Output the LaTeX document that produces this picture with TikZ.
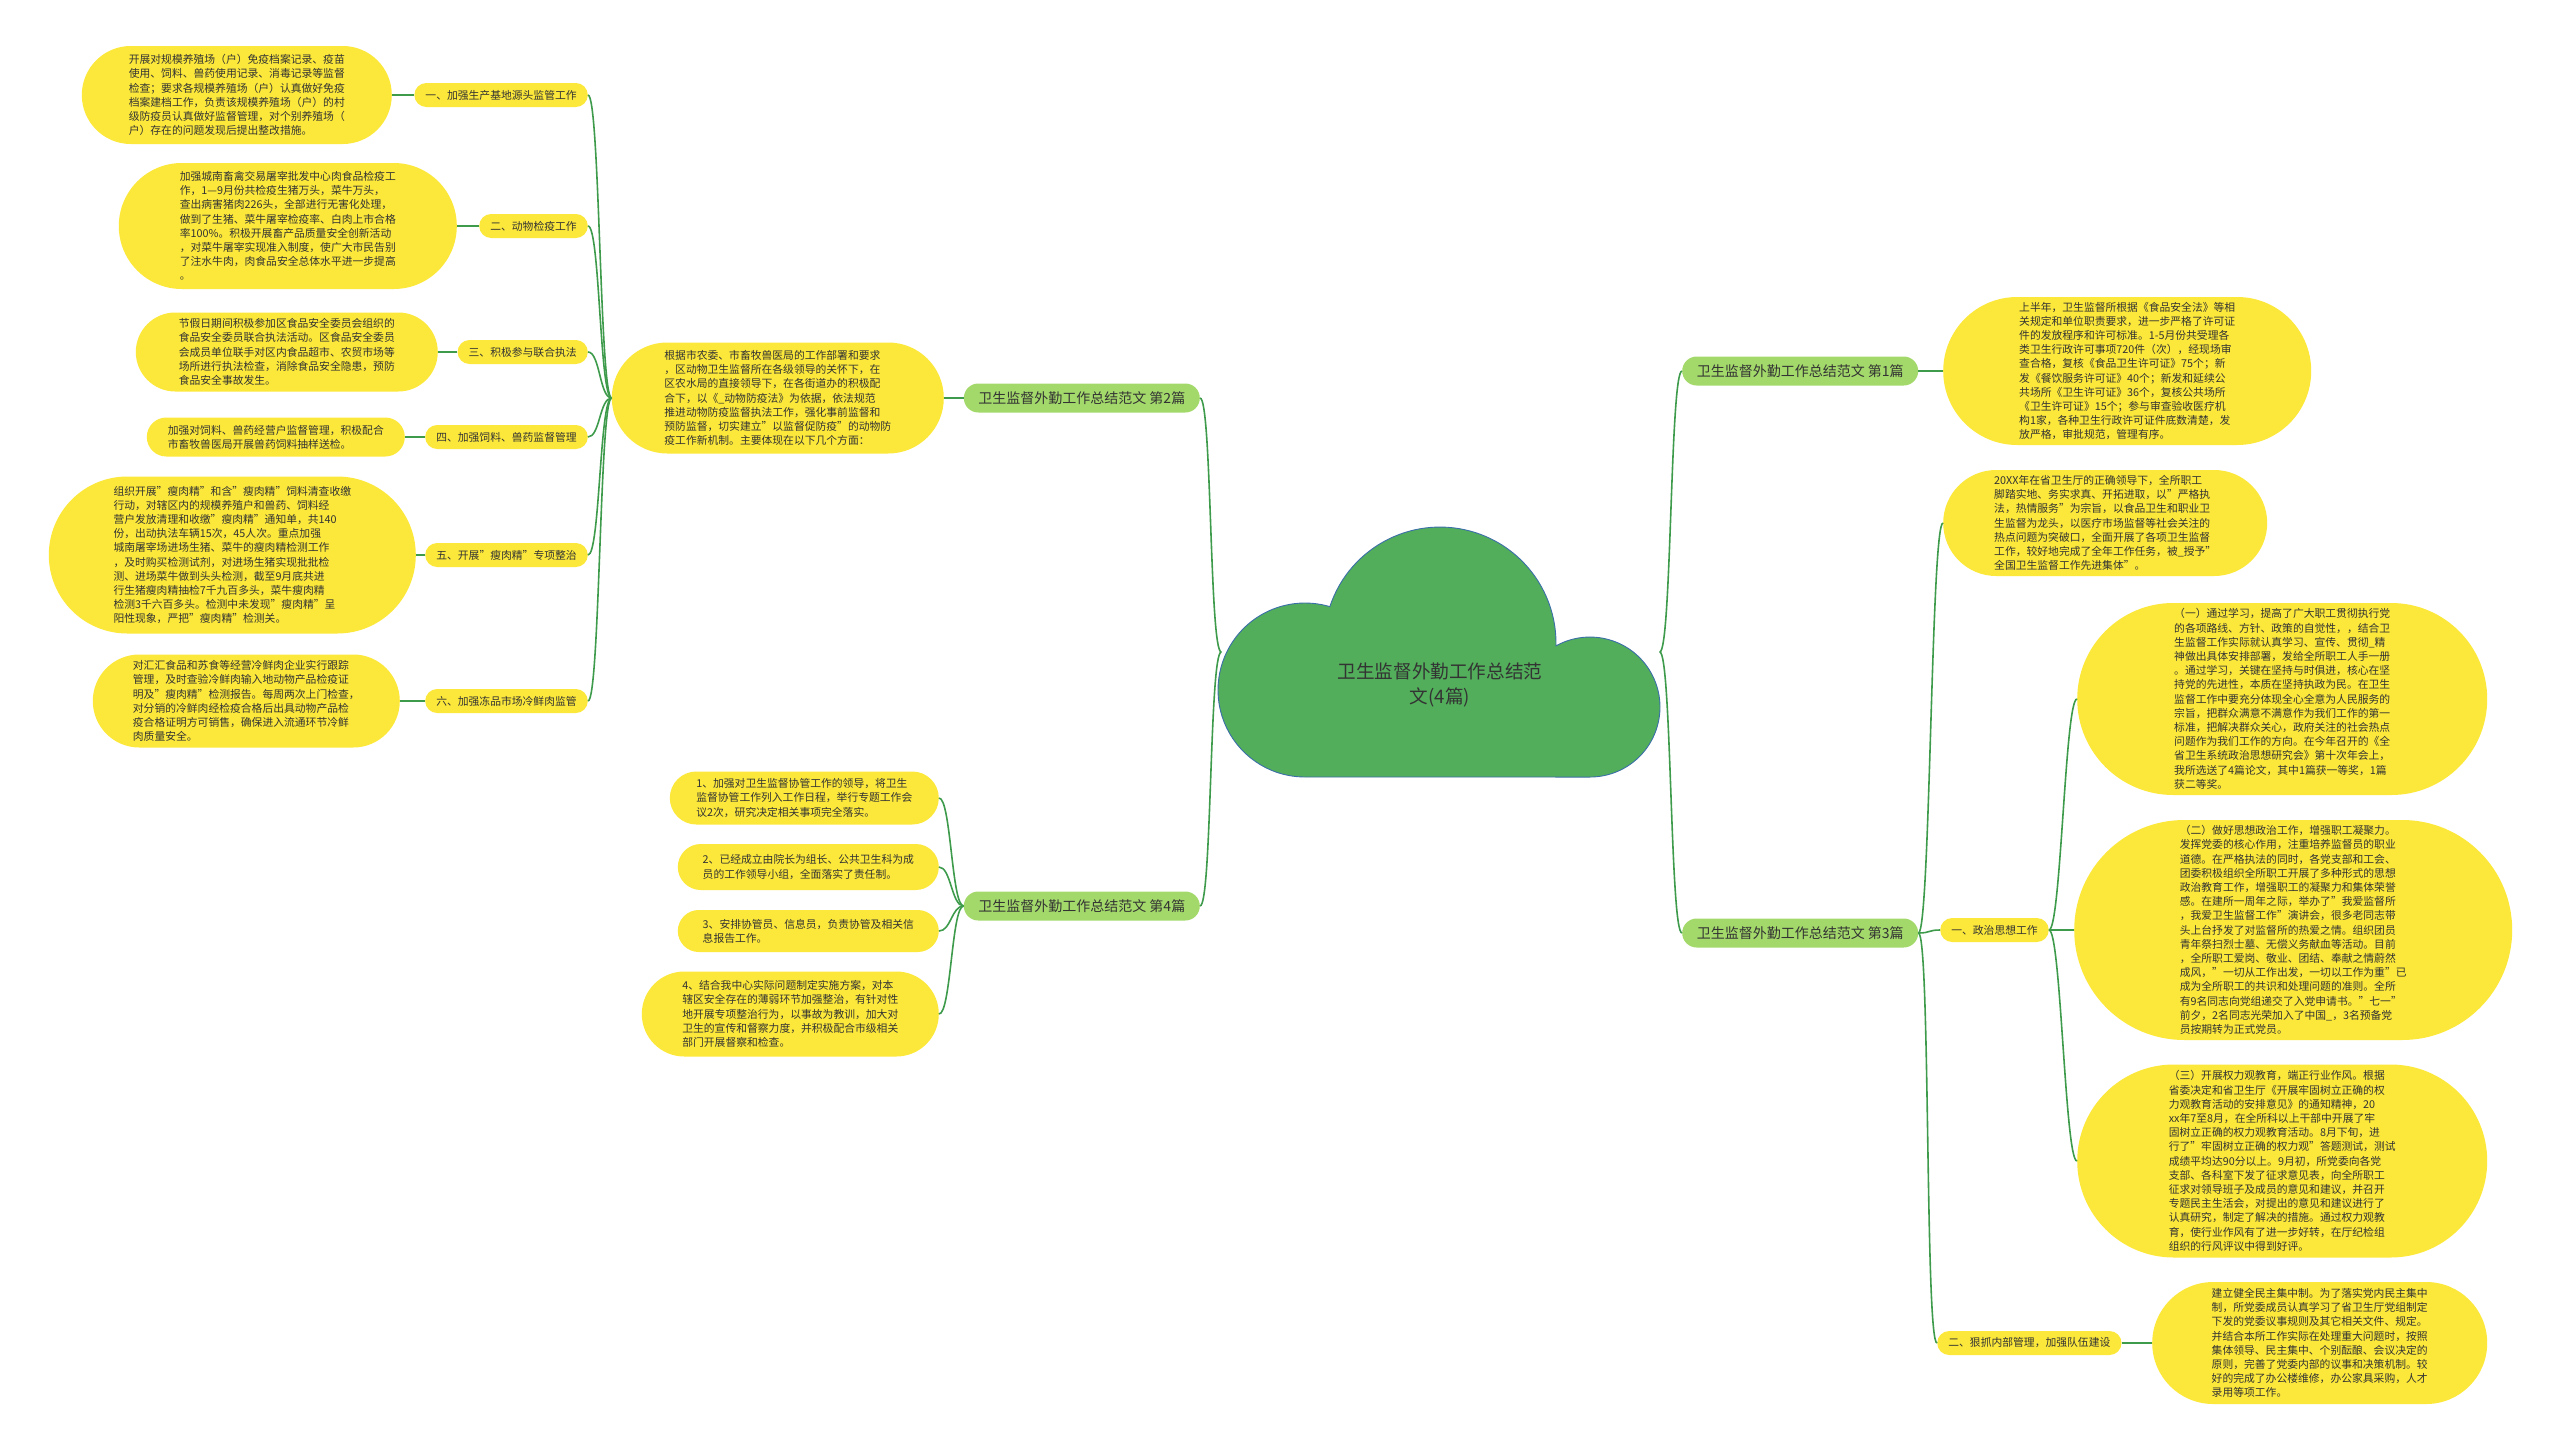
\documentclass[tikz,border=0pt]{standalone}
\usepackage{fontspec}
\setmainfont{Noto Sans CJK SC}
\usetikzlibrary{shapes.misc}
\definecolor{leafyellow}{HTML}{FCE83A}
\definecolor{branchgreen}{HTML}{A3D96B}
\definecolor{cloudgreen}{HTML}{52AE5B}
\definecolor{cloudline}{HTML}{3B6FA8}
\definecolor{linkgreen}{HTML}{3E9B4C}
\definecolor{inktext}{HTML}{333333}

\begin{document}
\begin{tikzpicture}[x=1pt,y=-1pt,
		leaf/.style={rounded rectangle,fill=leafyellow,inner xsep=0pt,inner ysep=0pt,align=left,text=inktext,font=\fontsize{10.8}{14.2}\selectfont},
		topic/.style={rounded rectangle,fill=leafyellow,inner xsep=10pt,inner ysep=0pt,minimum height=24pt,text=inktext,font=\fontsize{10.8}{13}\selectfont},
		branch/.style={rounded rectangle,fill=branchgreen,inner xsep=13pt,inner ysep=0pt,minimum height=29pt,text=inktext,font=\fontsize{14}{16}\selectfont},
		link/.style={draw=linkgreen,line width=1.6pt},
		fanL/.style={to path={.. controls +(-12,0) and +(12,0) .. (\tikztotarget)}},
		fanR/.style={to path={.. controls +(12,0) and +(-12,0) .. (\tikztotarget)}}]
		\useasboundingbox (0,0) rectangle (2560,1451);

		% Centre: the cloud and its title
		\filldraw[fill=cloudgreen,draw=cloudline,line width=0.9pt] (1305,777)
			arc[start angle=90,end angle=286.6,radius=87]
			arc[start angle=198.3,end angle=361.4,radius=116]
			arc[start angle=240.9,end angle=450,radius=70] -- cycle;
		\node[minimum width=438pt,minimum height=250pt,inner sep=0pt] (root) at (1440.5,652) {};
		\node[align=center,text=inktext,font=\fontsize{18.6}{25}\selectfont] (roottxt) at (1440,685) {卫生监督外勤工作总结范\\文(4篇)};

		% Branches
		\node[branch,anchor=east] (b2) at (1200,398) {卫生监督外勤工作总结范文 第2篇};
		\node[branch,anchor=east] (b4) at (1200,906) {卫生监督外勤工作总结范文 第4篇};
		\node[branch,anchor=west] (b1) at (1682,371) {卫生监督外勤工作总结范文 第1篇};
		\node[branch,anchor=west] (b3) at (1682,933) {卫生监督外勤工作总结范文 第3篇};

		% Second piece: intro and its six points
		\node[leaf,anchor=east,minimum width=332pt,minimum height=111pt] (r2) at (944,398) {根据市农委、市畜牧兽医局的工作部署和要求\\，区动物卫生监督所在各级领导的关怀下，在\\区农水局的直接领导下，在各街道办的积极配\\合下，以《\_动物防疫法》为依据，依法规范\\推进动物防疫监督执法工作，强化事前监督和\\预防监督，切实建立"以监督促防疫"的动物防\\疫工作新机制。主要体现在以下几个方面：};

		\node[topic,anchor=east] (s1) at (588,95) {一、加强生产基地源头监管工作};
		\node[topic,anchor=east] (s2) at (588,226) {二、动物检疫工作};
		\node[topic,anchor=east] (s3) at (588,352) {三、积极参与联合执法};
		\node[topic,anchor=east] (s4) at (588,437) {四、加强饲料、兽药监督管理};
		\node[topic,anchor=east] (s5) at (588,555) {五、开展"瘦肉精"专项整治};
		\node[topic,anchor=east] (s6) at (588,701) {六、加强冻品市场冷鲜肉监管};

		\node[leaf,anchor=east,minimum width=310pt,minimum height=98pt] (l1) at (392,95) {开展对规模养殖场（户）免疫档案记录、疫苗\\使用、饲料、兽药使用记录、消毒记录等监督\\检查；要求各规模养殖场（户）认真做好免疫\\档案建档工作，负责该规模养殖场（户）的村\\级防疫员认真做好监督管理，对个别养殖场（\\户）存在的问题发现后提出整改措施。};
		\node[leaf,anchor=east,minimum width=338pt,minimum height=126pt] (l2) at (457,226) {加强城南畜禽交易屠宰批发中心肉食品检疫工\\作，1—9月份共检疫生猪万头，菜牛万头，\\查出病害猪肉226头，全部进行无害化处理，\\做到了生猪、菜牛屠宰检疫率、白肉上市合格\\率100\%。积极开展畜产品质量安全创新活动\\，对菜牛屠宰实现准入制度，使广大市民告别\\了注水牛肉，肉食品安全总体水平进一步提高\\。};
		\node[leaf,anchor=east,minimum width=302pt,minimum height=79pt] (l3) at (438,352) {节假日期间积极参加区食品安全委员会组织的\\食品安全委员联合执法活动。区食品安全委员\\会成员单位联手对区内食品超市、农贸市场等\\场所进行执法检查，消除食品安全隐患，预防\\食品安全事故发生。};
		\node[leaf,anchor=east,minimum width=258pt,minimum height=39pt] (l4) at (405,437) {加强对饲料、兽药经营户监督管理，积极配合\\市畜牧兽医局开展兽药饲料抽样送检。};
		\node[leaf,anchor=east,minimum width=367pt,minimum height=157pt] (l5) at (416,555) {组织开展"瘦肉精"和含"瘦肉精"饲料清查收缴\\行动，对辖区内的规模养殖户和兽药、饲料经\\营户发放清理和收缴"瘦肉精"通知单，共140\\份，出动执法车辆15次，45人次。重点加强\\城南屠宰场进场生猪、菜牛的瘦肉精检测工作\\，及时购买检测试剂，对进场生猪实现批批检\\测、进场菜牛做到头头检测，截至9月底共进\\行生猪瘦肉精抽检7千九百多头，菜牛瘦肉精\\检测3千六百多头。检测中未发现"瘦肉精"呈\\阳性现象，严把"瘦肉精"检测关。};
		\node[leaf,anchor=east,minimum width=307pt,minimum height=93pt] (l6) at (400,701) {对汇汇食品和苏食等经营冷鲜肉企业实行跟踪\\管理，及时查验冷鲜肉输入地动物产品检疫证\\明及"瘦肉精"检测报告。每周两次上门检查，\\对分销的冷鲜肉经检疫合格后出具动物产品检\\疫合格证明方可销售，确保进入流通环节冷鲜\\肉质量安全。};

		% Fourth piece
		\node[leaf,anchor=east,minimum width=269pt,minimum height=53pt] (f1) at (939,798) {1、加强对卫生监督协管工作的领导，将卫生\\监督协管工作列入工作日程，举行专题工作会\\议2次，研究决定相关事项完全落实。};
		\node[leaf,anchor=east,minimum width=261pt,minimum height=46pt] (f2) at (939,867) {2、已经成立由院长为组长、公共卫生科为成\\员的工作领导小组，全面落实了责任制。};
		\node[leaf,anchor=east,minimum width=261pt,minimum height=42pt] (f3) at (939,931) {3、安排协管员、信息员，负责协管及相关信\\息报告工作。};
		\node[leaf,anchor=east,minimum width=297pt,minimum height=85pt] (f4) at (939,1014) {4、结合我中心实际问题制定实施方案，对本\\辖区安全存在的薄弱环节加强整治，有针对性\\地开展专项整治行为，以事故为教训，加大对\\卫生的宣传和督察力度，并积极配合市级相关\\部门开展督察和检查。};

		% First piece
		\node[leaf,anchor=west,minimum width=368pt,minimum height=148pt] (r1) at (1943,371) {上半年，卫生监督所根据《食品安全法》等相\\关规定和单位职责要求，进一步严格了许可证\\件的发放程序和许可标准。1-5月份共受理各\\类卫生行政许可事项720件（次），经现场审\\查合格，复核《食品卫生许可证》75个；新\\发《餐饮服务许可证》40个；新发和延续公\\共场所《卫生许可证》36个，复核公共场所\\《卫生许可证》15个；参与审查验收医疗机\\构1家，各种卫生行政许可证件底数清楚，发\\放严格，审批规范，管理有序。};

		% Third piece
		\node[leaf,anchor=west,minimum width=324pt,minimum height=106pt] (r3) at (1943,523) {20XX年在省卫生厅的正确领导下，全所职工\\脚踏实地、务实求真、开拓进取，以"严格执\\法，热情服务"为宗旨，以食品卫生和职业卫\\生监督为龙头，以医疗市场监督等社会关注的\\热点问题为突破口，全面开展了各项卫生监督\\工作，较好地完成了全年工作任务，被\_授予"\\全国卫生监督工作先进集体"。};
		\node[topic,anchor=west] (s7) at (1940,930) {一、政治思想工作};
		\node[topic,anchor=west] (s8) at (1937,1343) {二、狠抓内部管理，加强队伍建设};

		\node[leaf,anchor=west,minimum width=410pt,minimum height=192pt] (p1) at (2077,699) {（一）通过学习，提高了广大职工贯彻执行党\\的各项路线、方针、政策的自觉性，，结合卫\\生监督工作实际就认真学习、宣传、贯彻\_精\\神做出具体安排部署，发给全所职工人手一册\\。通过学习，关键在坚持与时俱进，核心在坚\\持党的先进性，本质在坚持执政为民。在卫生\\监督工作中要充分体现全心全意为人民服务的\\宗旨，把群众满意不满意作为我们工作的第一\\标准，把解决群众关心，政府关注的社会热点\\问题作为我们工作的方向。在今年召开的《全\\省卫生系统政治思想研究会》第十次年会上，\\我所选送了4篇论文，其中1篇获一等奖，1篇\\获二等奖。};
		\node[leaf,anchor=west,minimum width=438pt,minimum height=220pt] (p2) at (2074,930) {（二）做好思想政治工作，增强职工凝聚力。\\发挥党委的核心作用，注重培养监督员的职业\\道德。在严格执法的同时，各党支部和工会、\\团委积极组织全所职工开展了多种形式的思想\\政治教育工作，增强职工的凝聚力和集体荣誉\\感。在建所一周年之际，举办了"我爱监督所\\，我爱卫生监督工作"演讲会，很多老同志带\\头上台抒发了对监督所的热爱之情。组织团员\\青年祭扫烈士墓、无偿义务献血等活动。目前\\，全所职工爱岗、敬业、团结、奉献之情蔚然\\成风，"一切从工作出发，一切以工作为重"已\\成为全所职工的共识和处理问题的准则。全所\\有9名同志向党组递交了入党申请书。"七一"\\前夕，2名同志光荣加入了中国\_，3名预备党\\员按期转为正式党员。};
		\node[leaf,anchor=west,minimum width=410pt,minimum height=193pt] (p3) at (2077,1161) {（三）开展权力观教育，端正行业作风。根据\\省委决定和省卫生厅《开展牢固树立正确的权\\力观教育活动的安排意见》的通知精神，20\\xx年7至8月，在全所科以上干部中开展了牢\\固树立正确的权力观教育活动。8月下旬，进\\行了"牢固树立正确的权力观"答题测试，测试\\成绩平均达90分以上。9月初，所党委向各党\\支部、各科室下发了征求意见表，向全所职工\\征求对领导班子及成员的意见和建议，并召开\\专题民主生活会，对提出的意见和建议进行了\\认真研究，制定了解决的措施。通过权力观教\\育，使行业作风有了进一步好转，在厅纪检组\\组织的行风评议中得到好评。};
		\node[leaf,anchor=west,minimum width=335pt,minimum height=122pt] (p4) at (2152,1343) {建立健全民主集中制。为了落实党内民主集中\\制，所党委成员认真学习了省卫生厅党组制定\\下发的党委议事规则及其它相关文件、规定。\\并结合本所工作实际在处理重大问题时，按照\\集体领导、民主集中、个别酝酿、会议决定的\\原则，完善了党委内部的议事和决策机制。较\\好的完成了办公楼维修，办公家具采购，人才\\录用等项工作。};

		% Connectors, left half
		\draw[link] (root.west) to[fanL] (b2.east);
		\draw[link] (root.west) to[fanL] (b4.east);
		\draw[link] (b2.west) -- (r2.east);
		\draw[link] (r2.west) to[fanL] (s1.east);
		\draw[link] (r2.west) to[fanL] (s2.east);
		\draw[link] (r2.west) to[fanL] (s3.east);
		\draw[link] (r2.west) to[fanL] (s4.east);
		\draw[link] (r2.west) to[fanL] (s5.east);
		\draw[link] (r2.west) to[fanL] (s6.east);
		\draw[link] (s1.west) -- (l1.east);
		\draw[link] (s2.west) -- (l2.east);
		\draw[link] (s3.west) -- (l3.east);
		\draw[link] (s4.west) -- (l4.east);
		\draw[link] (s5.west) -- (l5.east);
		\draw[link] (s6.west) -- (l6.east);
		\draw[link] (b4.west) to[fanL] (f1.east);
		\draw[link] (b4.west) to[fanL] (f2.east);
		\draw[link] (b4.west) to[fanL] (f3.east);
		\draw[link] (b4.west) to[fanL] (f4.east);

		% Connectors, right half
		\draw[link] (root.east) to[fanR] (b1.west);
		\draw[link] (root.east) to[fanR] (b3.west);
		\draw[link] (b1.east) -- (r1.west);
		\draw[link] (b3.east) to[fanR] (r3.west);
		\draw[link] (b3.east) to[fanR] (s7.west);
		\draw[link] (b3.east) to[fanR] (s8.west);
		\draw[link] (s7.east) to[fanR] (p1.west);
		\draw[link] (s7.east) to[fanR] (p2.west);
		\draw[link] (s7.east) to[fanR] (p3.west);
		\draw[link] (s8.east) -- (p4.west);
	\end{tikzpicture}
\end{document}
